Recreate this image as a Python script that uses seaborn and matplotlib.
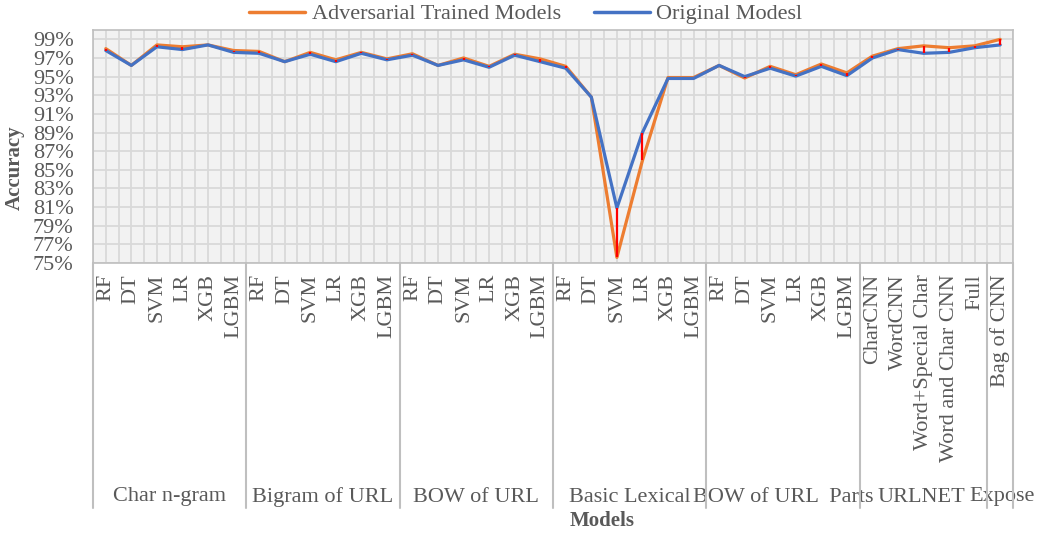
import matplotlib
matplotlib.use("Agg")
import matplotlib.pyplot as plt
import matplotlib.transforms as mtransforms
from matplotlib.lines import Line2D
import seaborn as sns
import pandas as pd
import numpy as np

# ---------------- data ----------------
models = ["RF", "DT", "SVM", "LR", "XGB", "LGBM",
          "RF", "DT", "SVM", "LR", "XGB", "LGBM",
          "RF", "DT", "SVM", "LR", "XGB", "LGBM",
          "RF", "DT", "SVM", "LR", "XGB", "LGBM",
          "RF", "DT", "SVM", "LR", "XGB", "LGBM",
          "CharCNN", "WordCNN", "Word+Special Char", "Word and Char CNN", "Full",
          "Bag of CNN"]
groups = ["Char n-gram", "Bigram of URL", "BOW of URL", "Basic Lexical",
          "BOW of URL  Parts", "URLNET", "Expose"]
group_sizes = [6, 6, 6, 6, 6, 5, 1]

adversarial = [98.0, 96.2, 98.4, 98.2, 98.4, 97.8,
               97.7, 96.6, 97.6, 96.8, 97.6, 96.9,
               97.45, 96.2, 97.0, 96.1, 97.4, 96.9,
               96.1, 92.8, 75.6, 86.0, 94.9, 94.9,
               96.2, 94.85, 96.1, 95.2, 96.35, 95.4,
               97.2, 98.0, 98.3, 98.1, 98.3,
               99.0]
original = [97.8, 96.2, 98.2, 97.9, 98.4, 97.6,
            97.5, 96.6, 97.4, 96.6, 97.5, 96.8,
            97.3, 96.2, 96.8, 96.0, 97.3, 96.6,
            95.9, 92.8, 80.9, 89.0, 94.8, 94.8,
            96.2, 95.0, 95.9, 95.05, 96.1, 95.1,
            97.0, 97.9, 97.5, 97.6, 98.1,
            98.4]
series_names = ["Adversarial Trained Models", "Original Modesl"]
y_ticks = list(range(75, 100, 2))

# ---------------- style ----------------
sns.set_theme(style="white")
plt.rcParams["font.family"] = ["Liberation Serif", "DejaVu Serif"]
text_color = "#595959"
grid_color = "#D9D9D9"
frame_color = "#BFBFBF"
colors = {series_names[0]: "#ED7D31", series_names[1]: "#4472C4"}

W, H = 1043, 533
fig = plt.figure(figsize=(W / 100, H / 100), dpi=100)
L, R, T, B = 93, 1013, 30, 263
fig.subplots_adjust(left=L / W, right=R / W, top=1 - T / H, bottom=1 - B / H)
ax = fig.add_subplot(111)
ax.set_facecolor("#F2F2F2")

n = len(models)
idx = np.arange(n)
df = pd.DataFrame({
    "idx": np.concatenate([idx, idx]),
    "acc": adversarial + original,
    "series": [series_names[0]] * n + [series_names[1]] * n,
})

# gridlines
for yv in y_ticks:
    ax.axhline(yv, color=grid_color, lw=1.3, zorder=0)
for xv in np.arange(-0.5, n, 0.5):
    ax.axvline(xv, color=grid_color, lw=1.3, zorder=0)

sns.lineplot(data=df, x="idx", y="acc", hue="series", hue_order=series_names,
             palette=colors, linewidth=2.3, sort=False, ax=ax, legend=False, zorder=3)

# high-low lines
lo = np.minimum(adversarial, original)
hi = np.maximum(adversarial, original)
ax.vlines(idx, lo, hi, color="#FF0000", lw=1.6, zorder=4)

ax.set_xlim(-0.5, n - 0.5)
ax.set_ylim(75, 100)
ax.set_yticks(y_ticks)
ax.set_yticklabels([f"{v}%" for v in y_ticks], fontsize=16, color=text_color)
ax.set_xticks(idx)
ax.set_xticklabels(models, rotation=90, fontsize=16, color=text_color, va="top", ha="center")
shift = mtransforms.ScaledTranslation(2.5 / 100, 0, fig.dpi_scale_trans)
for lab in ax.get_xticklabels():
    lab.set_transform(lab.get_transform() + shift)
ax.tick_params(axis="x", length=0, pad=8)
ax.tick_params(axis="y", length=0, pad=14)
ax.set_xlabel("")
ax.set_ylabel("")
for s in ax.spines.values():
    s.set_color(frame_color)
    s.set_linewidth(1.2)

# group separators and labels
trans = mtransforms.blended_transform_factory(ax.transData, fig.transFigure)
px2x = lambda px: (px - L) / ((R - L) / n) - 0.5
bounds = np.concatenate([[0], np.cumsum(group_sizes)]) - 0.5
y_top = 1 - B / H
y_bot = 1 - 508 / H
for b in bounds:
    fig.add_artist(Line2D([b, b], [y_top, y_bot], transform=trans, color=frame_color, lw=1.5))
y_grp = 1 - 497 / H
for gi, g in enumerate(groups):
    c = (bounds[gi] + bounds[gi + 1]) / 2
    if g == "URLNET":
        ax.text(px2x(878), y_grp, g, transform=trans, ha="left", va="center",
                fontsize=16, color=text_color, clip_on=False)
    elif g == "Expose":
        ax.text(px2x(1035), y_grp, g, transform=trans, ha="right", va="center",
                fontsize=16, color=text_color, clip_on=False)
    else:
        ax.text(c, y_grp, g, transform=trans, ha="center", va="center",
                fontsize=16, color=text_color, clip_on=False)

fig.text(602 / W, 1 - 521 / H, "Models", ha="center", va="center",
         fontsize=15, fontweight="bold", color=text_color)
fig.text(15 / W, 1 - 168 / H, "Accuracy", ha="center", va="center", rotation=90,
         fontsize=15, fontweight="bold", color=text_color)

handles = [Line2D([], [], color=colors[s], lw=2.5) for s in series_names]
fig.legend(handles, series_names, loc="center", bbox_to_anchor=(526 / W, 1 - 14 / H),
           ncol=2, frameon=False, fontsize=16, handlelength=2.5, columnspacing=1.5,
           handletextpad=0.3, labelcolor=text_color)

fig.savefig("out.png", dpi=100, facecolor="white")
